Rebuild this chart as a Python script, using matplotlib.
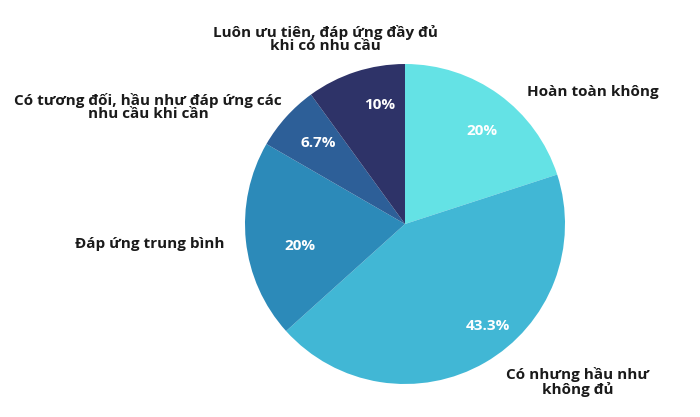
import matplotlib.pyplot as plt

labels = ["Hoàn toàn không", "Có nhưng hầu như\nkhông đủ", "Đáp ứng trung bình",
          "Có tương đối, hầu như đáp ứng các\nnhu cầu khi cần",
          "Luôn ưu tiên, đáp ứng đầy đủ\nkhi có nhu cầu"]
values = [6, 13, 6, 2, 3]
pct_labels = ["20%", "43.3%", "20%", "6.7%", "10%"]
colors = ["#64E2E5", "#41B7D5", "#2C8AB9", "#2D5F98", "#2E3368"]

# pixel layout of the reference (centre, radius, label spots)
CX, CY, R = 405, 224, 160
label_px = [(593, 92), (578, 382), (150, 244), (148, 107), (325, 39)]
pct_px = [(482, 131), (488, 326), (300, 246), (318, 143), (380, 105)]

W, H = 700, 417
fig = plt.figure(figsize=(7, 4.17), dpi=100)
ax = fig.add_axes([0, 0, 1, 1])

wedges, _ = ax.pie(values, colors=colors, startangle=90, counterclock=False,
                   radius=1, wedgeprops=dict(linewidth=0))

ax.set_xlim(-CX / R, (W - CX) / R)
ax.set_ylim(-(H - CY) / R, CY / R)
ax.set_aspect("auto")
ax.axis("off")


def to_data(p):
    return (p[0] - CX) / R, (CY - p[1]) / R


font = "Open Sans"
for txt, p in zip(labels, label_px):
    x, y = to_data(p)
    ax.text(x, y, txt, ha="center", va="center", fontsize=11, fontweight="bold",
            family=font, color="#1a1a1a", linespacing=0.95)

for txt, p in zip(pct_labels, pct_px):
    x, y = to_data(p)
    ax.text(x, y, txt, ha="center", va="center", fontsize=11, fontweight="bold",
            family=font, color="white")

fig.savefig("out.png", dpi=100)
